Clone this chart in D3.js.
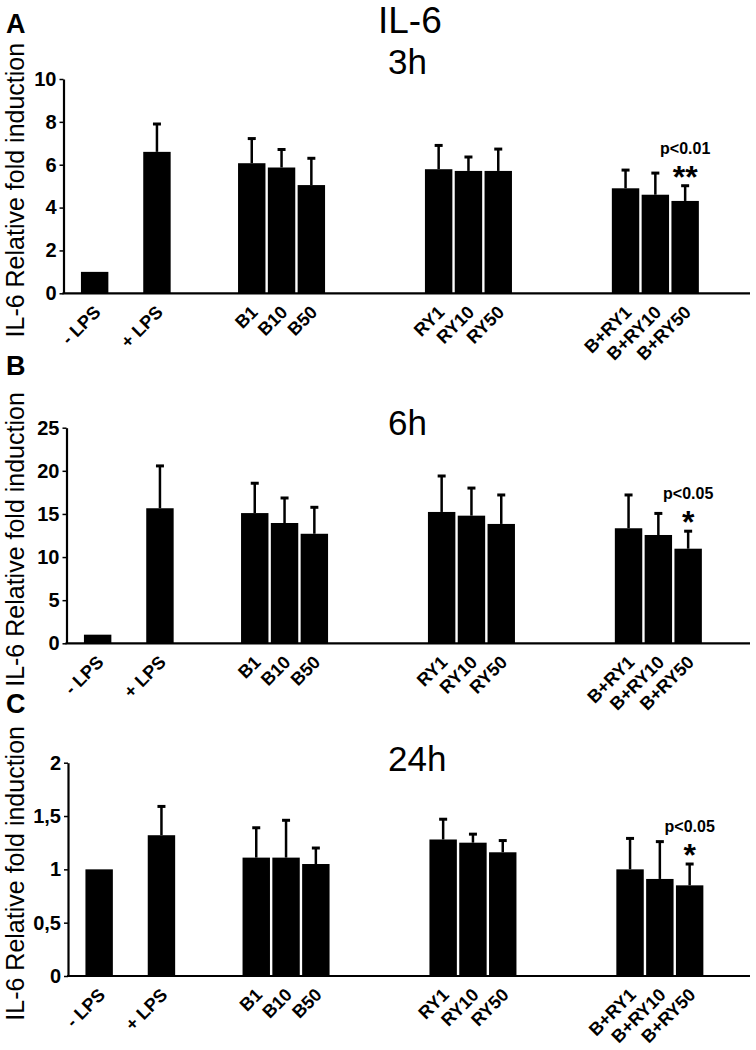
<!DOCTYPE html>
<html>
<head>
<meta charset="utf-8">
<script src="https://cdn.jsdelivr.net/npm/d3@7"></script>
<style>
  html, body { margin: 0; padding: 0; background: #fff; }
  svg { display: block; font-family: "Liberation Sans", Arial, sans-serif; }
</style>
</head>
<body>
<svg id="chart" width="756" height="1050"></svg>
<script>
// ---------------- data ----------------
const categories = ["- LPS", "+ LPS", "B1", "B10", "B50", "RY1", "RY10", "RY50", "B+RY1", "B+RY10", "B+RY50"];
const groups = [["- LPS"], ["+ LPS"], ["B1", "B10", "B50"], ["RY1", "RY10", "RY50"], ["B+RY1", "B+RY10", "B+RY50"]];

const mean3h = [1.0, 6.6, 6.07, 5.87, 5.05, 5.79, 5.71, 5.71, 4.9, 4.6, 4.31];
const err3h  = [0, 1.3, 1.15, 0.84, 1.25, 1.11, 0.65, 1.02, 0.85, 1.01, 0.71];

const mean6h = [1.0, 15.66, 15.1, 13.95, 12.7, 15.23, 14.8, 13.84, 13.34, 12.56, 10.97];
const err6h  = [0, 4.91, 3.46, 2.9, 3.07, 4.17, 3.2, 3.36, 3.86, 2.5, 2.03];

const mean24h = [1.0, 1.32, 1.11, 1.11, 1.05, 1.28, 1.25, 1.16, 1.0, 0.91, 0.85];
const err24h  = [0, 0.27, 0.28, 0.35, 0.15, 0.19, 0.08, 0.11, 0.29, 0.35, 0.2];

const yTicks3h = [0, 2, 4, 6, 8, 10];
const yTicks6h = [0, 5, 10, 15, 20, 25];
const yTicks24h = [0, 0.5, 1, 1.5, 2];
const yTickLabels3h = ["0", "2", "4", "6", "8", "10"];
const yTickLabels6h = ["0", "5", "10", "15", "20", "25"];
const yTickLabels24h = ["0", "0,5", "1", "1,5", "2"];

const panelLetters = ["A", "B", "C"];
const timeLabels = ["3h", "6h", "24h"];
const mainTitle = "IL-6";
const yAxisTitle = "IL-6 Relative fold induction";
const sigCategory = "B+RY50";
const sigP = ["p<0.01", "p<0.05", "p<0.05"];
const sigStars = ["**", "*", "*"];

// ---------------- layout ----------------
const panels = [
  { mean: mean3h, err: err3h, ticks: yTicks3h, tickLabels: yTickLabels3h, axisX: 63.5, base: 293.3, top: 79, letterY: 33, timeY: 74 },
  { mean: mean6h, err: err6h, ticks: yTicks6h, tickLabels: yTickLabels6h, axisX: 66.5, base: 643.3, top: 427.7, letterY: 375, timeY: 435 },
  { mean: mean24h, err: err24h, ticks: yTicks24h, tickLabels: yTickLabels24h, axisX: 68, base: 976, top: 762.7, letterY: 713, timeY: 770.5 }
];
const groupGaps = [0, 1, 2, 2];   // empty slots between consecutive groups
const slotWidthTotal = 623;
const barStep = 29.8;
const xAxisEnd = 750;

const svg = d3.select("#chart");

// main title
svg.append("text").attr("x", 378).attr("y", 33)
  .attr("font-size", 37).attr("fill", "#000").text(mainTitle);

// outer slot domain (groups with spacer slots)
const slotKeys = [];
groups.forEach((g, i) => {
  slotKeys.push("g" + i);
  if (i < groupGaps.length) for (let k = 0; k < groupGaps[i]; k++) slotKeys.push("s" + i + "_" + k);
});

panels.forEach((p, pi) => {
  const g = svg.append("g");
  const ymax = p.ticks[p.ticks.length - 1];
  const y = d3.scaleLinear().domain([0, ymax]).range([p.base, p.top]);
  const outer = d3.scaleBand().domain(slotKeys).range([p.axisX, p.axisX + slotWidthTotal]);

  const pos = {};
  groups.forEach((members, gi) => {
    const c = outer("g" + gi) + outer.bandwidth() / 2;
    const w = members.length * barStep;
    const inner = d3.scaleBand().domain(members).range([c - w / 2, c + w / 2])
      .paddingInner(0.08).paddingOuter(0.04);
    members.forEach(m => { pos[m] = { x: inner(m), w: inner.bandwidth(), cx: inner(m) + inner.bandwidth() / 2 }; });
  });

  const rows = categories.map((c, i) => ({ cat: c, v: p.mean[i], e: p.err[i] }));

  // bars
  g.selectAll("rect.bar").data(rows).join("rect").attr("class", "bar")
    .attr("x", d => pos[d.cat].x).attr("width", d => pos[d.cat].w)
    .attr("y", d => y(d.v)).attr("height", d => y(0) - y(d.v))
    .attr("fill", "#000");

  // error bars
  const eb = rows.filter(d => d.e > 0);
  g.selectAll("line.ev").data(eb).join("line")
    .attr("x1", d => pos[d.cat].cx).attr("x2", d => pos[d.cat].cx)
    .attr("y1", d => y(d.v)).attr("y2", d => y(d.v + d.e))
    .attr("stroke", "#000").attr("stroke-width", 2.5);
  g.selectAll("line.ec").data(eb).join("line")
    .attr("x1", d => pos[d.cat].cx - 4).attr("x2", d => pos[d.cat].cx + 4)
    .attr("y1", d => y(d.v + d.e)).attr("y2", d => y(d.v + d.e))
    .attr("stroke", "#000").attr("stroke-width", 3);

  // y axis
  const yAxis = d3.axisLeft(y).tickValues(p.ticks).tickSize(4).tickSizeOuter(0).tickPadding(3)
    .tickFormat((d, i) => p.tickLabels[i]);
  const ya = g.append("g").attr("transform", `translate(${p.axisX},0)`).call(yAxis);
  ya.select(".domain").attr("stroke", "#000").attr("stroke-width", 2.2);
  ya.selectAll(".tick line").attr("stroke", "#000").attr("stroke-width", 1.5);
  ya.selectAll(".tick text").attr("font-size", 20).attr("font-weight", "bold")
    .attr("font-family", "'Liberation Sans', Arial, sans-serif").attr("fill", "#000");

  // x axis line
  g.append("line").attr("x1", p.axisX - 1).attr("x2", xAxisEnd)
    .attr("y1", y(0)).attr("y2", y(0)).attr("stroke", "#000").attr("stroke-width", 2.2);

  // x labels
  g.selectAll("text.xl").data(categories).join("text").attr("class", "xl")
    .attr("transform", d => `translate(${pos[d].cx + 7},${y(0) + 20}) rotate(-45)`)
    .attr("text-anchor", "end").attr("font-size", 18).attr("font-weight", "bold")
    .attr("fill", "#000").text(d => d);

  // y title
  const yc = (p.base + p.top) / 2 + 4;
  g.append("text").attr("transform", `translate(24,${yc}) rotate(-90)`)
    .attr("text-anchor", "middle").attr("font-size", 25).attr("fill", "#000").text(yAxisTitle);

  // panel letter
  g.append("text").attr("x", 6).attr("y", p.letterY).attr("font-size", 27)
    .attr("font-weight", "bold").attr("fill", "#000").text(panelLetters[pi]);

  // time label
  g.append("text").attr("x", 388).attr("y", p.timeY).attr("font-size", 35)
    .attr("fill", "#000").text(timeLabels[pi]);

  // significance
  const si = categories.indexOf(sigCategory);
  const sx = pos[sigCategory].cx;
  const sTop = y(p.mean[si] + p.err[si]);
  g.append("text").attr("x", sx).attr("y", sTop - 32).attr("text-anchor", "middle")
    .attr("font-size", 16).attr("font-weight", "bold").attr("fill", "#000").text(sigP[pi]);
  g.append("text").attr("x", sx).attr("y", sTop + 2).attr("text-anchor", "middle")
    .attr("font-size", 32).attr("font-weight", "bold").attr("fill", "#000").text(sigStars[pi]);
});
</script>
</body>
</html>
